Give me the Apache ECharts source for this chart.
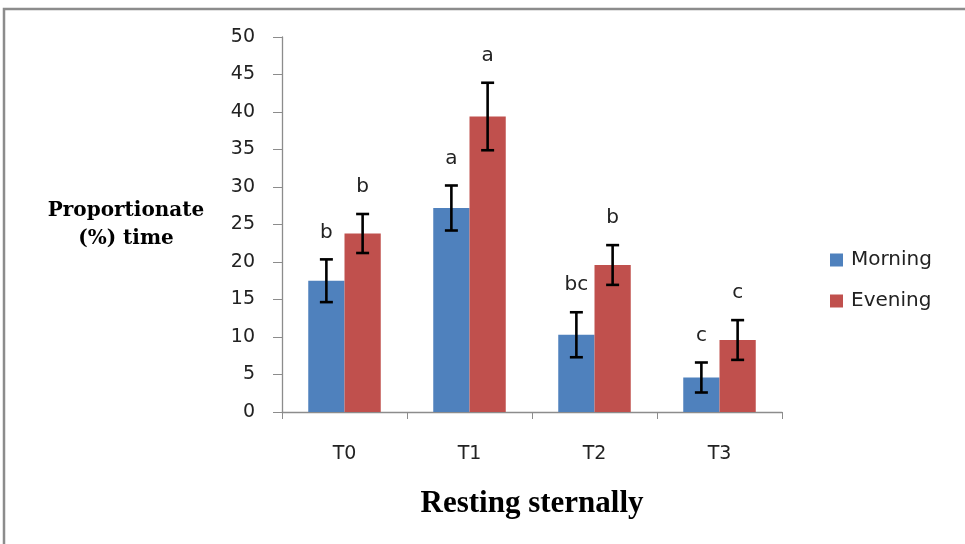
<!DOCTYPE html>
<html>
<head>
<meta charset="utf-8">
<script src="https://cdn.jsdelivr.net/npm/echarts@6/dist/echarts.min.js"></script>
<style>
html,body{margin:0;padding:0;background:#fff;}
#chart{width:965px;height:544px;}
</style>
</head>
<body>
<div id="chart"></div>
<script>
const categories = ['T0', 'T1', 'T2', 'T3'];
const morning = [17.5, 27.2, 10.3, 4.6];
const evening = [23.8, 39.4, 19.6, 9.6];
const morningErr = [2.85, 3.0, 3.0, 2.0];
const eveningErr = [2.6, 4.5, 2.65, 2.65];
const morningLetters = ['b', 'a', 'bc', 'c'];
const eveningLetters = ['b', 'a', 'b', 'c'];
const yTicks = { min: 0, max: 50, interval: 5 };

const CAT_GAP = 0.42;
const blue = '#4F81BD';
const red = '#C0504D';
const SANS = '"DejaVu Sans"';

function errorSeries(name, values, errs, letters, side) {
  return {
    type: 'custom',
    name: name + ' err',
    z: 10,
    silent: true,
    data: values.map((v, i) => [i, v, errs[i]]),
    renderItem: function (params, api) {
      const i = api.value(0);
      const v = api.value(1);
      const e = api.value(2);
      const letter = letters[i];
      const cw = api.size([1, 0])[0];
      const bw = cw * (1 - CAT_GAP) / 2;
      const c = api.coord([i, v]);
      const x = c[0] + side * bw / 2;
      const top = api.coord([i, v + e])[1];
      const bot = api.coord([i, v - e])[1];
      const cap = 6.5;
      const st = { stroke: '#000', lineWidth: 2.6 };
      return {
        type: 'group',
        children: [
          { type: 'line', shape: { x1: x, y1: top, x2: x, y2: bot }, style: st },
          { type: 'line', shape: { x1: x - cap, y1: top, x2: x + cap, y2: top }, style: st },
          { type: 'line', shape: { x1: x - cap, y1: bot, x2: x + cap, y2: bot }, style: st },
          { type: 'text', x: x, y: top - 17,
            style: { text: letter, fill: '#222', font: '20px ' + SANS, align: 'center', verticalAlign: 'bottom' } }
        ]
      };
    }
  };
}

const chart = echarts.init(document.getElementById('chart'));
chart.setOption({
  animation: false,
  backgroundColor: '#fff',
  graphic: [
    { type: 'polyline', shape: { points: [[4, 600], [4, 9], [970, 9]] },
      style: { stroke: '#8c8c8c', lineWidth: 2.5, fill: null } }
  ],
  grid: { left: 282, right: 183, top: 37, bottom: 132 },
  legend: {
    orient: 'vertical',
    left: 825,
    top: 245,
    itemWidth: 13,
    itemHeight: 13,
    itemGap: 21,
    icon: 'rect',
    textStyle: { fontFamily: 'DejaVu Sans', fontSize: 20, color: '#222', padding: [0, 0, 0, 3] },
    data: ['Morning', 'Evening']
  },
  xAxis: {
    type: 'category',
    data: categories,
    name: 'Resting sternally',
    nameLocation: 'middle',
    nameGap: 76,
    nameTextStyle: { fontFamily: 'Liberation Serif', fontWeight: 'bold', fontSize: 31, color: '#000' },
    axisLine: { lineStyle: { color: '#8c8c8c', width: 1.3 } },
    axisTick: { show: true, length: 7, lineStyle: { color: '#8c8c8c' } },
    axisLabel: { fontFamily: 'DejaVu Sans', fontSize: 19, color: '#222', margin: 33 }
  },
  yAxis: {
    type: 'value',
    min: yTicks.min,
    max: yTicks.max,
    interval: yTicks.interval,
    name: 'Proportionate\n(%) time',
    nameLocation: 'middle',
    nameRotate: 0,
    nameGap: 156,
    nameTextStyle: { fontFamily: 'DejaVu Serif', fontWeight: 'bold', fontSize: 20, color: '#000', lineHeight: 28, align: 'center' },
    axisLine: { show: true, lineStyle: { color: '#8c8c8c', width: 1.3 } },
    axisTick: { show: true, length: 9, lineStyle: { color: '#8c8c8c' } },
    axisLabel: { fontFamily: 'DejaVu Sans', fontSize: 19, color: '#222', margin: 27 },
    splitLine: { show: false }
  },
  series: [
    { name: 'Morning', type: 'bar', data: morning, barGap: '0%', barCategoryGap: (CAT_GAP * 100) + '%',
      itemStyle: { color: blue } },
    { name: 'Evening', type: 'bar', data: evening, barGap: '0%', barCategoryGap: (CAT_GAP * 100) + '%',
      itemStyle: { color: red } },
    errorSeries('Morning', morning, morningErr, morningLetters, -1),
    errorSeries('Evening', evening, eveningErr, eveningLetters, 1)
  ]
});
</script>
</body>
</html>
